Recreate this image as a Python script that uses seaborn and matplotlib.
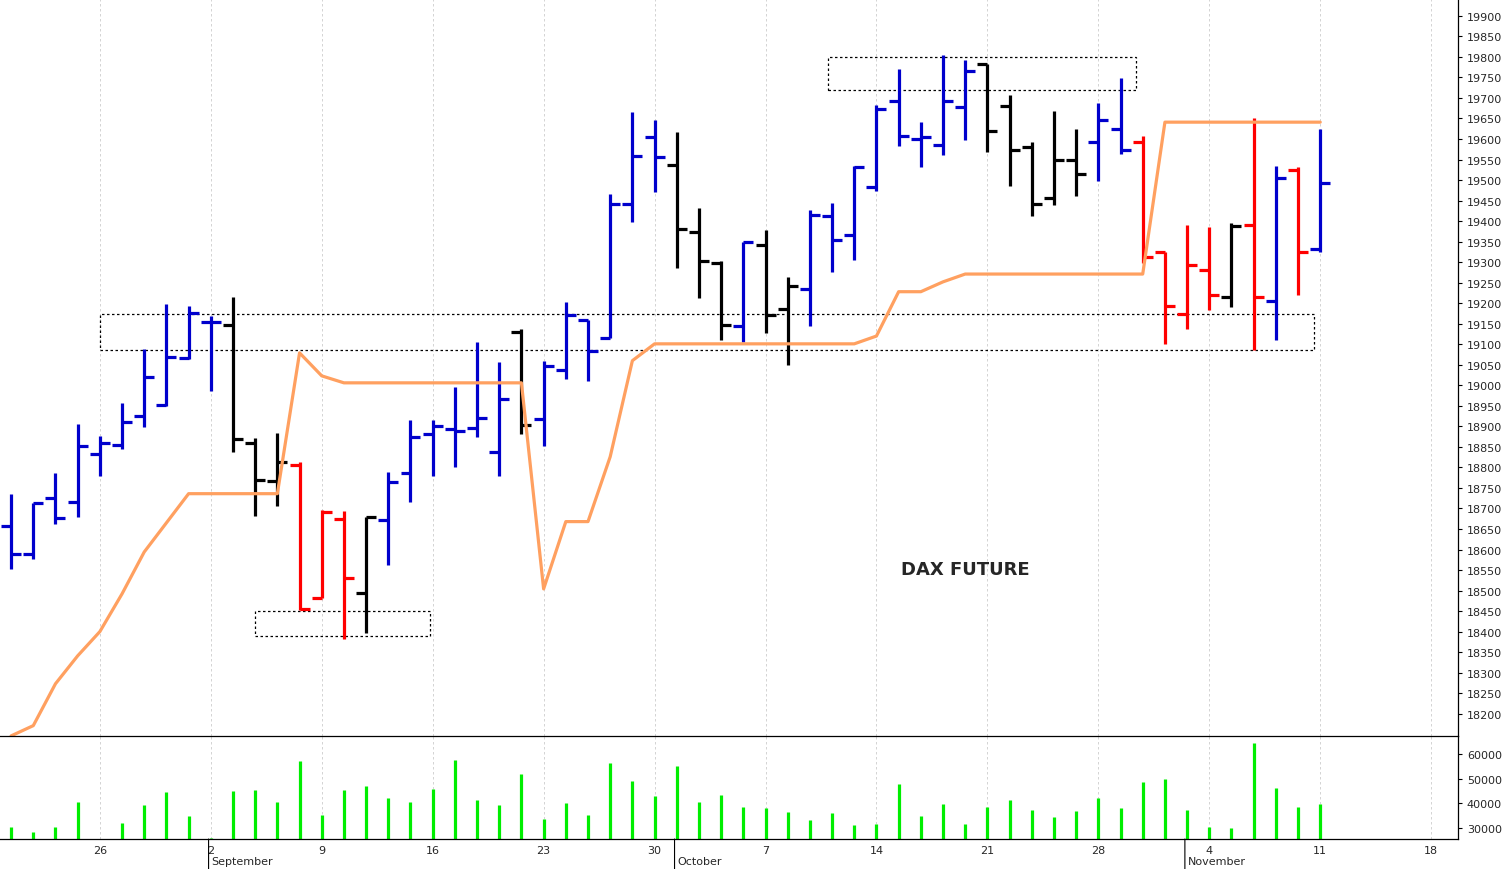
import matplotlib
matplotlib.use("Agg")
import matplotlib.pyplot as plt
from matplotlib.patches import Rectangle
import seaborn as sns
import numpy as np
import pandas as pd

# --- data: DAX future daily bars 20 Aug - 11 Nov 2024 ---
dates = pd.bdate_range("2024-08-20", "2024-11-11")

highs = [18736, 18714, 18787, 18906, 18877, 18957, 19089, 19198, 19193, 19169,
         19215, 18872, 18884, 18814, 18697, 18694, 18680, 18789, 18916, 18916,
         18996, 19106, 19057, 19137, 19060, 19203, 19159, 19466, 19666, 19646,
         19617, 19432, 19303, 19349, 19379, 19264, 19427, 19444, 19534, 19683,
         19771, 19642, 19805, 19792, 19783, 19707, 19593, 19668, 19624, 19688,
         19749, 19607, 19325, 19391, 19386, 19396, 19651, 19534, 19532, 19624]
lows = [18553, 18577, 18663, 18680, 18780, 18845, 18899, 18950, 19064, 18986,
        18838, 18682, 18706, 18453, 18482, 18383, 18397, 18563, 18716, 18780,
        18801, 18874, 18780, 18882, 18853, 19016, 19011, 19116, 19398, 19471,
        19286, 19213, 19111, 19106, 19128, 19050, 19145, 19276, 19305, 19473,
        19583, 19532, 19561, 19598, 19568, 19486, 19413, 19439, 19461, 19498,
        19564, 19298, 19101, 19137, 19184, 19191, 19086, 19111, 19220, 19325]
opens = [18658, 18590, 18726, 18716, 18833, 18855, 18926, 18952, 19067, 19155,
         19147, 18860, 18767, 18806, 18482, 18675, 18495, 18672, 18787, 18882,
         18894, 18896, 18838, 19130, 18918, 19038, 19159, 19116, 19442, 19605,
         19537, 19374, 19298, 19145, 19342, 19186, 19235, 19413, 19366, 19483,
         19693, 19600, 19586, 19678, 19783, 19680, 19581, 19456, 19549, 19593,
         19624, 19593, 19325, 19174, 19281, 19215, 19391, 19206, 19525, 19332]
closes = [18590, 18714, 18677, 18853, 18860, 18911, 19021, 19069, 19176, 19155,
          18870, 18770, 18814, 18456, 18692, 18531, 18680, 18765, 18874, 18901,
          18889, 18921, 18967, 18904, 19047, 19172, 19084, 19442, 19559, 19556,
          19381, 19303, 19147, 19349, 19172, 19242, 19415, 19354, 19532, 19673,
          19607, 19605, 19693, 19766, 19620, 19573, 19442, 19549, 19515, 19646,
          19573, 19313, 19193, 19293, 19220, 19388, 19215, 19505, 19325, 19493]
# trend state: b = up, k = neutral, r = down
trend = list("bbbbbbbbbbkkkrrrkbbbbbbkbbbbbbkkkbkkbbbbbbbbkkkkkbbrrrrkrbrb")
stop_line = [18146, 18171, 18273, 18341, 18400, 18492, 18594, 18665, 18736, 18736,
             18736, 18736, 18736, 19079, 19023, 19006, 19006, 19006, 19006, 19006,
             19006, 19006, 19006, 19006, 18504, 18668, 18668, 18826, 19060, 19101,
             19101, 19101, 19101, 19101, 19101, 19101, 19101, 19101, 19101, 19120,
             19228, 19228, 19252, 19271, 19271, 19271, 19271, 19271, 19271, 19271,
             19271, 19271, 19641, 19641, 19641, 19641, 19641, 19641, 19641, 19641]
volume = [30400, 28400, 30400, 40500, 25600, 32000, 39300, 44600, 34900, 26000,
          45000, 45400, 40500, 57200, 35300, 45400, 47000, 42200, 40500, 45800,
          57600, 41400, 39300, 51900, 33600, 40100, 35300, 56400, 49100, 43000,
          55100, 40500, 43400, 38500, 38100, 36500, 33200, 36100, 31200, 31600,
          47800, 34900, 39700, 31600, 38500, 41400, 37300, 34500, 36900, 42200,
          38100, 48600, 49900, 37300, 30400, 30000, 64500, 46200, 38500, 39700]

colour_map = {"b": "#0000cc", "k": "#000000", "r": "#ff0000"}
df = pd.DataFrame({"idx": np.arange(len(dates)), "date": dates, "open": opens,
                   "high": highs, "low": lows, "close": closes,
                   "stop": stop_line, "volume": volume, "trend": trend})
df["colour"] = df["trend"].map(colour_map)

sns.set_style("white")
plt.rcParams["font.family"] = ["DejaVu Sans"]

fig = plt.figure(figsize=(15.06, 8.70), dpi=100)
ax = fig.add_axes([0, 0.153, 0.968, 0.847])
axv = fig.add_axes([0, 0.0345, 0.968, 0.1185], sharex=ax)
axv.patch.set_visible(False)
ax.set_zorder(2)
ax.patch.set_visible(False)

# --- price bars ---
w = 0.45
ax.vlines(df["idx"], df["low"], df["high"], colors=df["colour"], lw=2.3)
ax.hlines(df["open"], df["idx"] - w, df["idx"], colors=df["colour"], lw=2.3)
ax.hlines(df["close"], df["idx"], df["idx"] + w, colors=df["colour"], lw=2.3)
sns.lineplot(data=df, x="idx", y="stop", ax=ax, color="#ffa060", lw=2.3)

# support / resistance zones
for x0, x1, y0, y1 in [(4.0, 58.7, 19086, 19174), (11.0, 18.9, 18390, 18451),
                       (36.8, 50.7, 19720, 19800)]:
    ax.add_patch(Rectangle((x0, y0), x1 - x0, y1 - y0, fill=False,
                           ls=(0, (2, 2)), lw=0.9, ec="black"))
ax.text(43, 18553, "DAX FUTURE", fontsize=13, fontweight="bold", ha="center", va="center")

# --- volume ---
axv.vlines(df["idx"], 0, df["volume"], colors="#00ee00", lw=2.3)

# --- axes formatting ---
mondays = [(i, d) for i, d in enumerate(dates) if d.weekday() == 0]
tick_pos = [i for i, _ in mondays] + [64]
tick_lab = [str(d.day) for _, d in mondays] + ["18"]
ax.set_yticks(np.arange(18200, 19901, 50))
axv.set_yticks([30000, 40000, 50000, 60000])

for a in (ax, axv):
    a.yaxis.tick_right()
    a.tick_params(axis="y", labelsize=8, length=3, direction="out", right=True,
                  color="black")
    for s in ("left", "top"):
        a.spines[s].set_visible(False)
    for s in ("right", "bottom"):
        a.spines[s].set_color("black")
        a.spines[s].set_linewidth(0.9)
    for x in tick_pos:
        a.axvline(x, color="#cccccc", lw=0.6, ls=(0, (3, 3)), zorder=0)
    a.set_xlabel("")
    a.set_ylabel("")

ax.tick_params(axis="x", bottom=False, labelbottom=False)
axv.set_xticks(tick_pos)
axv.set_xticklabels(tick_lab, fontsize=8)
axv.set_xticks(np.arange(0, 66), minor=True)
axv.tick_params(axis="x", which="both", length=3, pad=1, color="black")

ax.set_xlim(-0.5, 65.2)
ax.set_ylim(18146, 19941)
axv.set_ylim(25540, 67300)

months = [(9, "September"), (30, "October"), (53, "November")]
for i, name in months:
    axv.annotate(name, xy=(i - 0.1, 0), xycoords=("data", "axes fraction"),
                 xytext=(2, -12), textcoords="offset points", fontsize=8, va="top")
    axv.annotate("", xy=(i - 0.1, 0), xycoords=("data", "axes fraction"),
                 xytext=(0, -22), textcoords="offset points",
                 arrowprops=dict(arrowstyle="-", lw=0.8, color="black",
                                 shrinkA=0, shrinkB=0))

fig.savefig("out.png", dpi=100, facecolor="white")
